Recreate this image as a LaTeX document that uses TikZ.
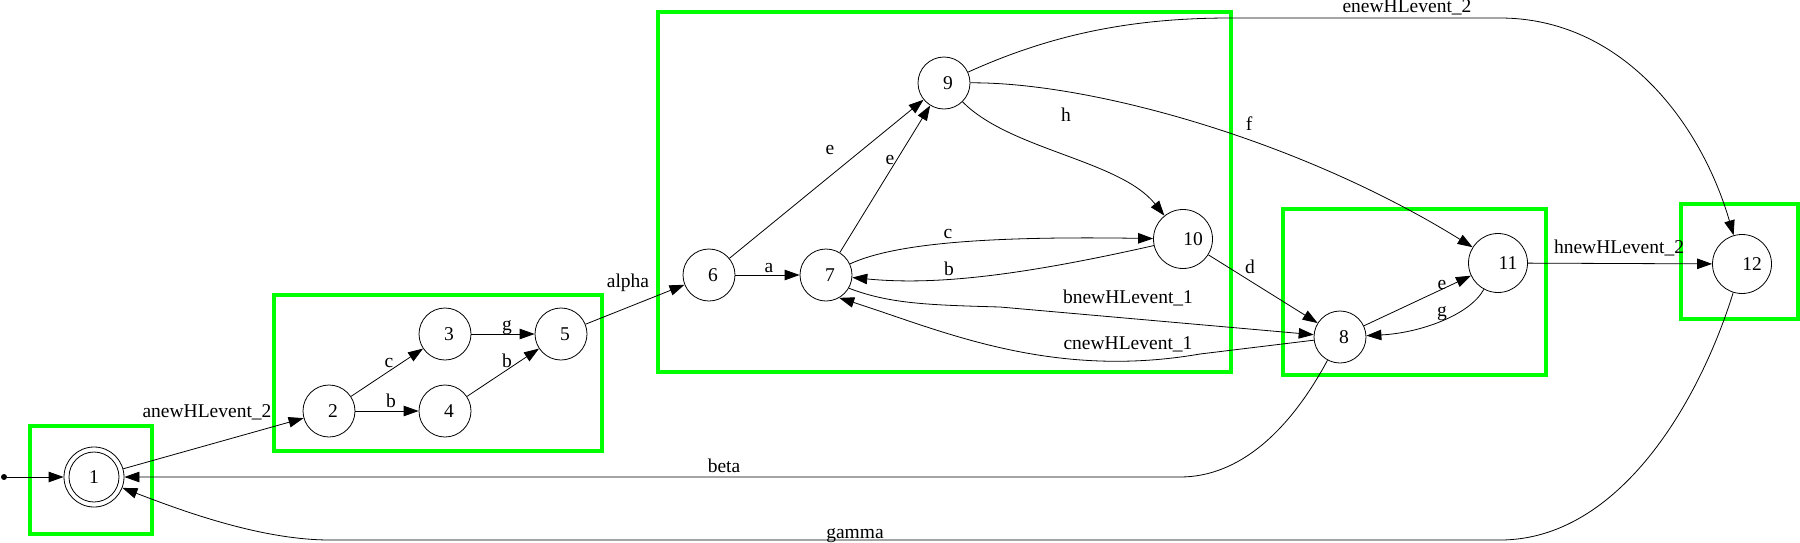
\documentclass[tikz,border=0pt]{standalone}
\usepackage{fontspec}
\setmainfont{Liberation Serif}
\usetikzlibrary{arrows.meta}
\definecolor{boxgreen}{RGB}{0,255,0}
\begin{document}
\begin{tikzpicture}[x=1pt,y=-1pt,
  st/.style={circle,draw,line width=0.8pt,minimum size=52pt,inner sep=0pt,font=\fontsize{19.5}{22}\selectfont},
  stw/.style={st,minimum size=59pt},
  lab/.style={inner sep=0pt,anchor=base,font=\fontsize{19.5}{22}\selectfont},
  edge/.style={line width=0.8pt,-{Triangle[length=15pt,width=10.5pt]}},
  grp/.style={draw=boxgreen,line width=4pt}]
\useasboundingbox (0,0) rectangle (1800,542);
% group boxes
\draw[grp] (30,426) rectangle (152,534);
\draw[grp] (274,295) rectangle (602,451);
\draw[grp] (658,12) rectangle (1231,372);
\draw[grp] (1283,209) rectangle (1546,375);
\draw[grp] (1681,204) rectangle (1798,319);
% states
\node[st,minimum size=60pt] (n1) at (94,477) {1};
\node[circle,draw,line width=0.8pt,minimum size=50pt,inner sep=0pt] (n1in) at (94,477) {};
\node[circle,fill,inner sep=0pt,minimum size=6pt] (init) at (4,477) {};
\node[st] (n2) at (329,411) {\kern8pt 2};
\node[st] (n3) at (445,334) {\kern8pt 3};
\node[st] (n4) at (445,411) {\kern8pt 4};
\node[st] (n5) at (561,334) {\kern8pt 5};
\node[st] (n6) at (709,275) {\kern8pt 6};
\node[st] (n7) at (826,275) {\kern8pt 7};
\node[st] (n9) at (944,83) {\kern8pt 9};
\node[stw] (n10) at (1183,239) {\kern20pt 10};
\node[st] (n8) at (1340,337) {\kern8pt 8};
\node[stw] (n11) at (1498,263) {\kern20pt 11};
\node[stw] (n12) at (1742,264) {\kern20pt 12};
% transitions
\draw[edge] (init) -- (n1);
\draw[edge] (n1) -- (n2);
\draw[edge] (n2) -- (n3);
\draw[edge] (n2) -- (n4);
\draw[edge] (n3) -- (n5);
\draw[edge] (n4) -- (n5);
\draw[edge] (n5) -- (n6);
\draw[edge] (n6) -- (n7);
\draw[edge] (n6) -- (n9);
\draw[edge] (n7) -- (n9);
\draw[edge] (n7) .. controls (895,243) and (990,236) .. (n10);
\draw[edge] (n10) .. controls (1010,278) and (930,285) .. (n7);
\draw[edge] (n9) .. controls (1010,150) and (1120,160) .. (n10);
\draw[edge] (n9) .. controls (1090,82) and (1300,140) .. (n11);
\draw[edge] (n9) .. controls (1050,35) and (1130,18) .. (1230,18) -- (1500,18) .. controls (1620,18) and (1700,120) .. (n12);
\draw[edge] (n10) -- (n8);
\draw[edge] (n7.-30) .. controls (890,304) and (930,305) .. (1000,307) -- (n8);
\draw[edge] (n8) -- (1200,354) .. controls (1050,380) and (940,330) .. (n7.-60);
\draw[edge] (n8) -- (n11);
\draw[edge] (n11) .. controls (1470,315) and (1420,333) .. (n8);
\draw[edge] (n11) -- (n12);
\draw[edge] (n8) .. controls (1290,430) and (1240,477) .. (1180,477) -- (n1);
\draw[edge] (n12) .. controls (1700,400) and (1620,540) .. (1500,540) -- (330,540) .. controls (260,540) and (180,510) .. (n1);
% labels
\node[lab] (l1) at (207,417) {anewHLevent\_2};
\node[lab] (l2) at (389,367) {c};
\node[lab] (l3) at (391,407) {b};
\node[lab] (l4) at (507,330) {g};
\node[lab] (l5) at (507,367) {b};
\node[lab] (l6) at (628,287) {alpha};
\node[lab] (l7) at (769,272) {a};
\node[lab] (l8) at (830,154) {e};
\node[lab] (l9) at (890,164) {e};
\node[lab] (l10) at (1066,121) {h};
\node[lab] (l11) at (948,238) {c};
\node[lab] (l12) at (949,275) {b};
\node[lab] (l13) at (1128,303) {bnewHLevent\_1};
\node[lab] (l14) at (1128,349) {cnewHLevent\_1};
\node[lab] (l15) at (1249,130) {f};
\node[lab] (l16) at (1250,273) {d};
\node[lab] (l17) at (1442,289) {e};
\node[lab] (l18) at (1442,316) {g};
\node[lab] (l19) at (1619,253) {hnewHLevent\_2};
\node[lab] (l20) at (724,472) {beta};
\node[lab] (l21) at (855,538) {gamma};
\node[lab] (l22) at (1407,12) {enewHLevent\_2};
\end{tikzpicture}
\end{document}
